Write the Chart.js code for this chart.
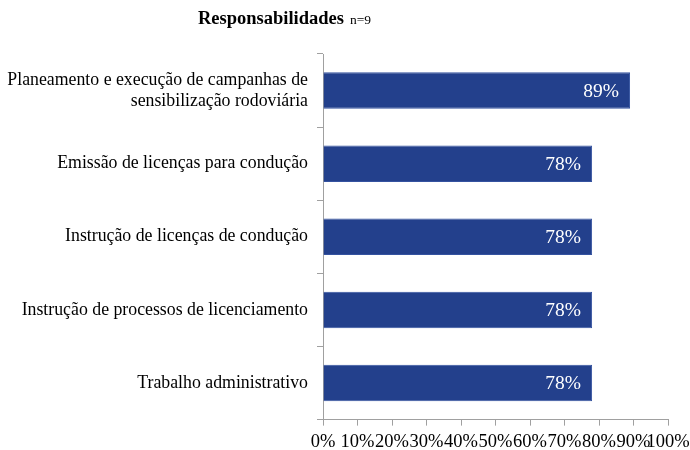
<!DOCTYPE html>
<html lang="pt">
<head>
    <meta charset="UTF-8">
    <title>Responsabilidades</title>
    <script src="https://cdn.jsdelivr.net/npm/chart.js"></script>
    <style>
        body { margin: 0; background: #fff; }
        #wrap { width: 690px; height: 450px; position: relative; }
    </style>
</head>
<body>
<div id="wrap"><canvas id="barChart"></canvas></div>
<script>
    // chart data
    const categories = [
        ['Planeamento e execução de campanhas de', 'sensibilização rodoviária'],
        'Emissão de licenças para condução',
        'Instrução de licenças de condução',
        'Instrução de processos de licenciamento',
        'Trabalho administrativo'
    ];
    const values = [89, 78, 78, 78, 78];
    const titleText = 'Responsabilidades';
    const sampleText = 'n=9';

    const serif = '"Liberation Serif", "Times New Roman", serif';

    // draws title and the value labels inside the bars
    const extras = {
        id: 'extras',
        afterDatasetsDraw(chart) {
            const ctx = chart.ctx;
            ctx.save();
            ctx.fillStyle = '#000';
            ctx.textBaseline = 'middle';
            ctx.font = 'bold 18.5px ' + serif;
            ctx.textAlign = 'left';
            ctx.fillText(titleText, 198, 19);
            const w = ctx.measureText(titleText).width;
            ctx.font = '13.5px ' + serif;
            ctx.fillText(sampleText, 198 + w + 6, 20);

            ctx.font = '19.5px ' + serif;
            ctx.fillStyle = '#fff';
            ctx.textAlign = 'right';
            chart.getDatasetMeta(0).data.forEach((bar, i) => {
                ctx.fillText(values[i] + '%', bar.x - 11, bar.y + 1);
            });
            ctx.restore();
        }
    };

    new Chart(document.getElementById('barChart'), {
        type: 'bar',
        data: {
            labels: categories,
            datasets: [{
                data: values,
                backgroundColor: '#23408C',
                borderColor: '#3553A0',
                borderWidth: 1,
                categoryPercentage: 1,
                barPercentage: 0.5
            }]
        },
        options: {
            indexAxis: 'y',
            responsive: true,
            maintainAspectRatio: false,
            animation: false,
            layout: { padding: { top: 54, right: 22, left: 0, bottom: 0 } },
            plugins: {
                legend: { display: false },
                tooltip: { enabled: false }
            },
            scales: {
                x: {
                    min: 0,
                    max: 100,
                    afterFit: s => { s.height = 29; s.paddingRight = 0; s.paddingLeft = 0; },
                    border: { color: '#A0A0A0' },
                    grid: { drawOnChartArea: false, tickLength: 6, color: '#A0A0A0' },
                    ticks: {
                        stepSize: 10,
                        autoSkip: false,
                        maxRotation: 0,
                        minRotation: 0,
                        padding: 5,
                        color: '#000',
                        font: { family: serif, size: 18.5 },
                        callback: v => v + '%'
                    }
                },
                y: {
                    afterFit: s => { s.width = 323; },
                    border: { color: '#A0A0A0' },
                    grid: { drawOnChartArea: false, tickLength: 6, color: '#A0A0A0', offset: true },
                    ticks: {
                        padding: 9,
                        color: '#000',
                        font: { family: serif, size: 17.8, lineHeight: 1.2 }
                    }
                }
            }
        },
        plugins: [extras]
    });
</script>
</body>
</html>
